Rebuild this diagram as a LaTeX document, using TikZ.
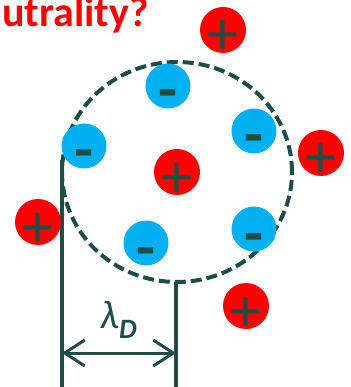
\documentclass[tikz,border=0pt]{standalone}
\usepackage{fontspec}
\setmainfont{Carlito}
\usepackage{tikz}
\usetikzlibrary{arrows.meta}
\definecolor{plasmagreen}{HTML}{1F4D45}
\definecolor{ionred}{HTML}{FF0000}
\definecolor{elecblue}{HTML}{00B0F0}

\begin{document}
\begin{tikzpicture}[
  x=1pt, y=-1pt,
  ion/.style={circle, fill=ionred, minimum size=46pt, inner sep=0pt},
  elec/.style={circle, fill=elecblue, minimum size=45pt, inner sep=0pt},
  sgn/.style={font=\fontsize{62}{62}\selectfont, text=plasmagreen,
    inner sep=0pt, anchor=base},
  wall/.style={line width=3.5pt, plasmagreen},
  sphere/.style={line width=4pt, plasmagreen, dash pattern=on 11pt off 5pt},
  dim/.style={{Straight Barb[length=20pt, width=26pt]}-{Straight Barb[length=20pt, width=26pt]},
    line width=3pt, plasmagreen},
  ttl/.style={font=\fontsize{42}{44}\selectfont\bfseries, text=ionred,
    inner sep=0pt, anchor=base west},
]
  \useasboundingbox (0,0) rectangle (350,387);

  %% Title (cut at the left edge)
  \node[ttl] (title) at (2,27) {utrality?};

  %% Debye sphere
  \coordinate (c) at (177,172);
  \draw[sphere] (c) ellipse [x radius=115pt, y radius=110pt];

  %% Walls and the Debye length
  \coordinate (wl) at (62,160);
  \coordinate (wlb) at (62,387);
  \coordinate (wr) at (176,282);
  \coordinate (wrb) at (176,387);
  \draw[wall] (wl) -- (wlb);
  \draw[wall] (wr) -- (wrb);
  \coordinate (al) at (62,353);
  \coordinate (ar) at (176,353);
  \draw[dim] (al) -- node[above=10pt, font=\fontsize{40}{40}\selectfont\itshape,
    text=plasmagreen] (lab) {λ\textsubscript{\bfseries D}} (ar);

  %% Ions
  \foreach \x/\y/\n in {223/30/p1, 321/153/p2, 177/172/p3, 38/222/p4, 246/306/p5} {
    \node[ion] (\n) at (\x,\y) {};
    \node[sgn] (\n s) at ([yshift=-25pt]\n.center) {+};
  }

  %% Electrons
  \foreach \x/\y/\n in {168/86/e1, 84/146/e2, 254/131/e3, 146/243/e4, 254/229/e5} {
    \node[elec] (\n) at (\x,\y) {};
    \node[sgn, font=\fontsize{62}{62}\selectfont\bfseries] (\n s)
      at ([yshift=-25pt]\n.center) {-};
  }
\end{tikzpicture}
\end{document}
